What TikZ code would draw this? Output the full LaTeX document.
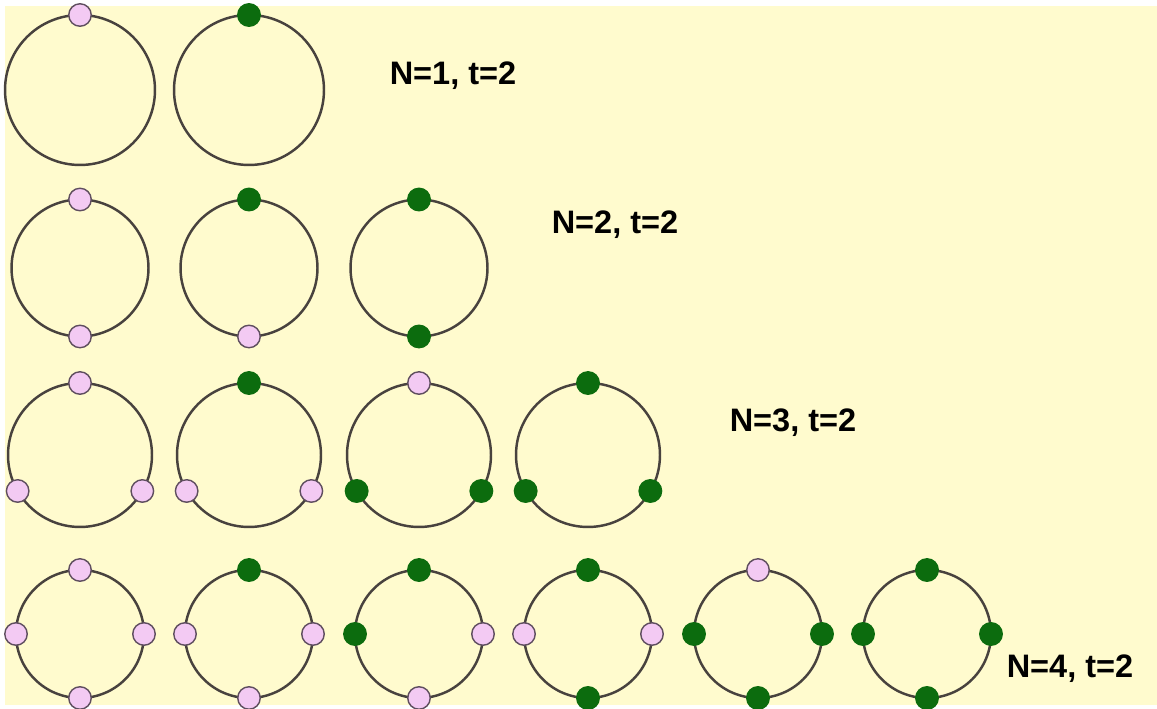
\documentclass[tikz,border=0pt]{standalone}
\usepackage{fontspec}
\setmainfont{Liberation Sans}
\usepackage{xcolor}

\definecolor{paper}{RGB}{255,251,206}
\definecolor{ringgray}{RGB}{72,66,62}
\definecolor{pinkfill}{RGB}{243,202,243}
\definecolor{pinkrim}{RGB}{95,78,95}
\definecolor{greenfill}{RGB}{12,108,14}

\tikzset{
    ring/.style={circle, draw=ringgray, line width=1.4pt, inner sep=0pt, outer sep=0pt},
    pinkdot/.style={circle, fill=pinkfill, draw=pinkrim, line width=0.8pt, inner sep=0pt, minimum size=0.45cm},
    greendot/.style={circle, fill=greenfill, draw=greenfill, line width=0.8pt, inner sep=0pt, minimum size=0.45cm},
    rowlabel/.style={font=\bfseries\fontsize{18.5}{20}\selectfont, inner sep=0pt, anchor=base}
}

\begin{document}
\begin{tikzpicture}[x=0.02cm, y=-0.02cm]
    \fill[white] (0,0) rectangle (1157,709);
    \fill[paper] (5,6) rectangle (1157,705);
    \useasboundingbox (0,0) rectangle (1157,709);

    % N=1
    \foreach \x/\ct [count=\i] in {80/pinkdot, 249/greendot} {
        \node[ring, minimum size=3cm] (a\i) at (\x,90) {};
        \node[\ct] (a\i t) at (a\i.90) {};
    }
    \node[rowlabel] (na) at (453,85) {N=1, t=2};

    % N=2
    \foreach \x/\ct/\cb [count=\i] in {80/pinkdot/pinkdot, 249/greendot/pinkdot, 419/greendot/greendot} {
        \node[ring, minimum size=2.74cm] (b\i) at (\x,268) {};
        \node[\ct] (b\i t) at (b\i.90) {};
        \node[\cb] (b\i b) at (b\i.270) {};
    }
    \node[rowlabel] (nb) at (615,234) {N=2, t=2};

    % N=3
    \foreach \x/\ct/\cl/\cr [count=\i] in {80/pinkdot/pinkdot/pinkdot, 249/greendot/pinkdot/pinkdot,
            419/pinkdot/greendot/greendot, 588/greendot/greendot/greendot} {
        \node[ring, minimum size=2.88cm] (c\i) at (\x,455) {};
        \node[\ct] (c\i t) at (c\i.90) {};
        \node[\cl] (c\i l) at (c\i.210) {};
        \node[\cr] (c\i r) at (c\i.330) {};
    }
    \node[rowlabel] (nc) at (793,432) {N=3, t=2};

    % N=4
    \foreach \x/\ct/\cl/\cr/\cb [count=\i] in {80/pinkdot/pinkdot/pinkdot/pinkdot,
            249/greendot/pinkdot/pinkdot/pinkdot, 419/greendot/greendot/pinkdot/pinkdot,
            588/greendot/pinkdot/pinkdot/greendot, 758/pinkdot/greendot/greendot/greendot,
            927/greendot/greendot/greendot/greendot} {
        \node[ring, minimum size=2.56cm] (d\i) at (\x,634) {};
        \node[\ct] (d\i t) at (d\i.90) {};
        \node[\cl] (d\i l) at (d\i.180) {};
        \node[\cr] (d\i r) at (d\i.0) {};
        \node[\cb] (d\i b) at (d\i.270) {};
    }
    \node[rowlabel] (nd) at (1070,677) {N=4, t=2};
\end{tikzpicture}
\end{document}
